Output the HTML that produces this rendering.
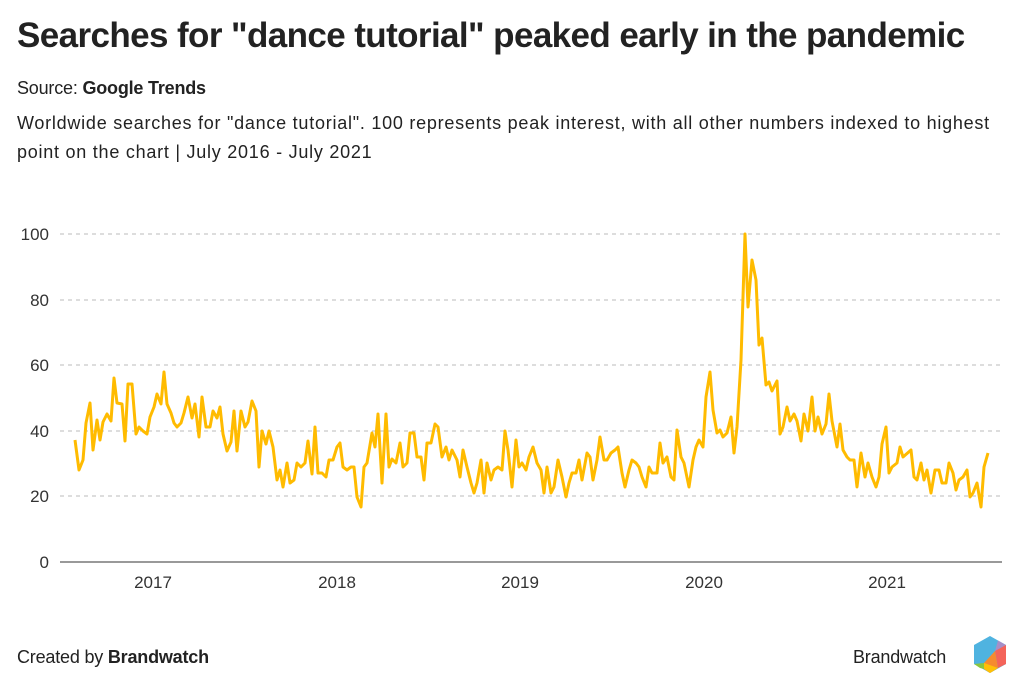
<!DOCTYPE html>
<html><head><meta charset="utf-8"><style>
body{margin:0;width:1024px;height:694px;background:#fff;font-family:"Liberation Sans",sans-serif;color:#222;position:relative;overflow:hidden}
.t{position:absolute;left:17px;top:16px;font-size:35px;font-weight:bold;color:#222;letter-spacing:-0.6px}
.s{position:absolute;left:17px;top:78px;font-size:18px;letter-spacing:-0.2px}
.d{position:absolute;left:17px;top:109px;font-size:18px;line-height:29px;width:1005px;letter-spacing:0.75px;white-space:nowrap}
.f{position:absolute;top:647px;font-size:18px;letter-spacing:-0.2px}
</style></head><body>
<div class="t">Searches for "dance tutorial" peaked early in the pandemic</div>
<div class="s">Source: <b>Google Trends</b></div>
<div class="d">Worldwide searches for "dance tutorial". 100 represents peak interest, with all other numbers indexed to highest<br>point on the chart | July 2016 - July 2021</div>
<svg width="1024" height="694" style="position:absolute;left:0;top:0">
<g stroke="#bbb" stroke-dasharray="4,4" stroke-width="1">
<line x1="60" x2="1002" y1="234" y2="234"/><line x1="60" x2="1002" y1="300" y2="300"/><line x1="60" x2="1002" y1="365" y2="365"/><line x1="60" x2="1002" y1="431" y2="431"/><line x1="60" x2="1002" y1="496" y2="496"/></g>
<line x1="60" x2="1002" y1="562" y2="562" stroke="#333" stroke-width="1"/>
<g font-size="17" fill="#333" text-anchor="end"><text x="49" y="240">100</text><text x="49" y="306">80</text><text x="49" y="371">60</text><text x="49" y="437">40</text><text x="49" y="502">20</text><text x="49" y="568">0</text></g>
<g font-size="17" fill="#333" text-anchor="middle"><text x="153" y="588">2017</text><text x="337" y="588">2018</text><text x="520" y="588">2019</text><text x="704" y="588">2020</text><text x="887" y="588">2021</text></g>
<polyline fill="none" stroke="#FFBB00" stroke-width="3" stroke-linejoin="round" points="75,440 79,470 83,460 86,423 90,403 93,450 97,420 100,440 103,422 107,414 111,421 114,378 117,403 122,404 125,441 128,384 132,384 136,434 139,427 143,431 147,434 150,417 154,407 157,394 161,404 164,372 167,404 171,413 174,423 177,427 181,423 184,413 188,397 192,418 195,404 199,437 202,397 206,427 210,427 213,411 217,418 220,407 223,434 227,451 231,442 234,411 237,451 241,411 245,427 248,422 252,401 256,411 259,467 262,431 266,444 269,431 273,447 277,480 280,470 283,487 287,463 290,483 294,480 297,463 301,467 305,463 308,441 312,474 315,427 318,473 322,473 326,477 329,460 333,460 337,447 340,443 343,467 347,470 351,467 354,467 357,497 361,507 364,467 367,463 372,433 375,447 378,414 382,483 386,414 389,467 392,459 396,463 400,443 403,467 407,463 410,433 414,433 417,457 421,457 424,480 427,443 431,443 435,424 438,427 442,457 446,447 449,460 452,450 457,460 460,477 463,450 467,467 471,483 474,493 477,483 481,460 484,493 487,463 491,480 494,470 498,467 502,470 505,431 508,450 512,487 516,440 519,467 522,463 526,470 529,457 533,447 537,463 541,470 544,493 547,467 551,493 554,487 558,460 562,477 566,497 569,483 572,473 576,473 579,460 582,480 587,453 590,457 593,480 597,460 600,437 604,460 607,460 611,453 615,450 618,447 622,473 625,487 629,470 632,460 636,463 639,467 642,477 646,487 649,467 652,473 657,473 660,443 663,463 667,457 671,477 674,480 677,430 681,457 684,463 689,487 693,460 696,447 699,440 703,447 706,397 710,372 713,410 717,433 720,430 723,437 727,433 731,417 734,453 737,427 741,360 745,234 748,307 752,260 756,280 759,345 762,338 766,385 769,382 772,391 777,381 780,434 783,427 787,407 790,421 794,414 797,421 801,441 804,414 808,431 812,397 815,431 818,417 822,434 826,424 829,394 832,421 837,447 840,424 843,450 847,457 850,460 854,460 857,487 861,453 865,477 868,463 872,477 876,487 879,477 882,444 886,427 889,473 892,467 897,463 900,447 903,457 911,450 914,477 917,480 921,463 924,480 927,470 931,493 935,470 939,470 942,483 946,483 949,463 953,473 956,490 959,480 963,477 967,470 970,497 973,493 977,483 981,507 984,467 988,453"/>
<g transform="translate(990,655)">
<polygon points="0,-19 16,-10 16,9 0,18 -16,9 -16,-10" fill="#4fb3e0"/>
<polygon points="0,-19 8,-14.5 5,-4 12,0 16,-10" fill="#a68fc8"/>
<polygon points="5,-4 16,-10 16,9 8,13" fill="#f4645a"/>
<polygon points="-6,8 5,-4 8,13 0,18 -6,14" fill="#f68b2f"/>
<polygon points="-16,9 -6,8 -6,14 -10,13" fill="#8cc63f"/>
<polygon points="-6,14 0,18 8,13 -6,8" fill="#ffc107"/>
</g>
</svg>
<div class="f" style="left:17px">Created by <b>Brandwatch</b></div>
<div class="f" style="left:853px">Brandwatch</div>
</body></html>
